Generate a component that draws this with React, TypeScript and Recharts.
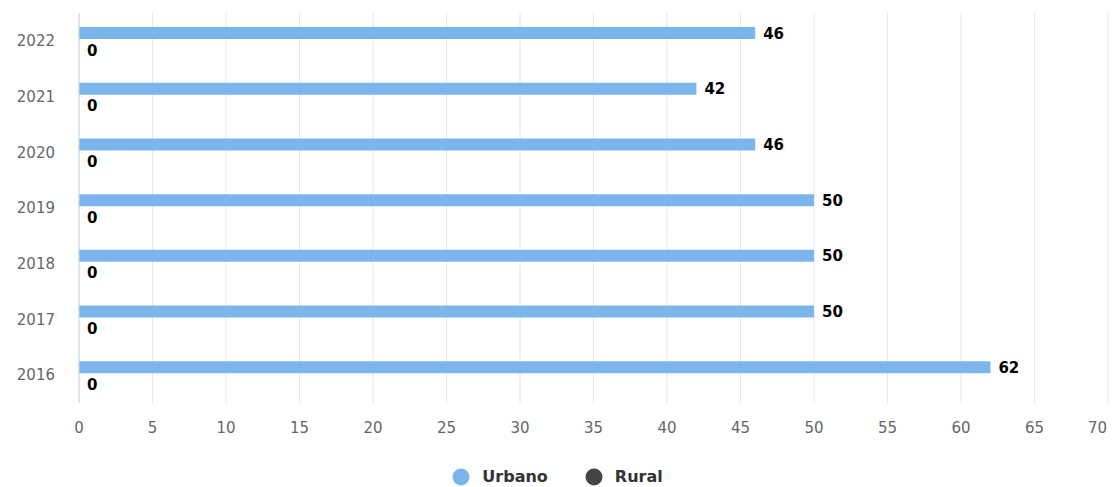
import React from 'react';
import { BarChart, Bar, XAxis, YAxis, CartesianGrid, Legend, LabelList } from 'recharts';

const years = ['2022', '2021', '2020', '2019', '2018', '2017', '2016'];
const urbano = [46, 42, 46, 50, 50, 50, 62];
const rural = [0, 0, 0, 0, 0, 0, 0];
const xTicks = [0, 5, 10, 15, 20, 25, 30, 35, 40, 45, 50, 55, 60, 65, 70];

const data = years.map((y, i) => ({ year: y, Urbano: urbano[i], Rural: rural[i] }));

const FONT = '"DejaVu Sans", Verdana, sans-serif';
const URB = '#7cb5ec';
const RUR = '#434348';

const makeLabel = (dy: number) => (props: any) => {
  const { x, y, width, height, value } = props;
  return (
    <text
      x={Number(x) + Math.max(0, Number(width)) + 8}
      y={Number(y) + Number(height) / 2 + dy}
      dominantBaseline="central"
      fontFamily={FONT}
      fontSize={15}
      fontWeight="bold"
      fill="#000"
      stroke="#fff"
      strokeWidth={2}
      paintOrder="stroke"
    >
      {value}
    </text>
  );
};

const XTick = (props: any) => {
  const { x, y, payload } = props;
  const last = payload.value === xTicks[xTicks.length - 1];
  return (
    <text
      x={last ? x - 1 : x}
      y={y}
      dy="0.71em"
      textAnchor={last ? 'end' : 'middle'}
      fill="#666666"
      fontSize={15}
      fontFamily={FONT}
    >
      {payload.value}
    </text>
  );
};

const LegendContent = () => {
  const items = [
    { name: 'Urbano', color: URB },
    { name: 'Rural', color: RUR },
  ];
  return (
    <div style={{ display: 'flex', justifyContent: 'center', alignItems: 'center', fontFamily: FONT }}>
      {items.map((it, i) => (
        <div key={it.name} style={{ display: 'flex', alignItems: 'center', marginLeft: i === 0 ? 0 : 37 }}>
          <svg width={18} height={18} style={{ marginRight: 12 }}>
            <circle cx={9} cy={9} r={8.5} fill={it.color} />
          </svg>
          <span style={{ fontSize: 16, fontWeight: 'bold', color: '#333333' }}>{it.name}</span>
        </div>
      ))}
    </div>
  );
};

export default function App() {
  return (
    <div style={{ position: 'absolute', left: 0, top: 0, width: 1115, height: 487, background: '#fff' }}>
      <BarChart
        width={1115}
        height={487}
        data={data}
        layout="vertical"
        margin={{ top: 13, right: 7, bottom: 0, left: 0 }}
        barSize={12}
        barGap={3}
      >
        <CartesianGrid horizontal={false} vertical={true} stroke="#e6e6e6" />
        <XAxis
          type="number"
          domain={[0, 70]}
          ticks={xTicks}
          interval={0}
          axisLine={false}
          tickLine={false}
          tickSize={0}
          tickMargin={19}
          height={84}
          tick={<XTick />}
        />
        <YAxis
          type="category"
          dataKey="year"
          width={79}
          axisLine={{ stroke: '#ccd6eb' }}
          tickLine={false}
          tickSize={0}
          tickMargin={24}
          tick={{ fill: '#666666', fontSize: 15, fontFamily: FONT }}
        />
        <Legend
          layout="horizontal"
          verticalAlign="middle"
          align="center"
          wrapperStyle={{ top: 467, left: 0, width: 1115 }}
          content={<LegendContent />}
        />
        <Bar dataKey="Urbano" fill={URB} isAnimationActive={false}>
          <LabelList dataKey="Urbano" content={makeLabel(0.5)} />
        </Bar>
        <Bar dataKey="Rural" fill={RUR} fillOpacity={0} minPointSize={0.01} isAnimationActive={false}>
          <LabelList dataKey="Rural" content={makeLabel(2.5)} />
        </Bar>
      </BarChart>
    </div>
  );
}
